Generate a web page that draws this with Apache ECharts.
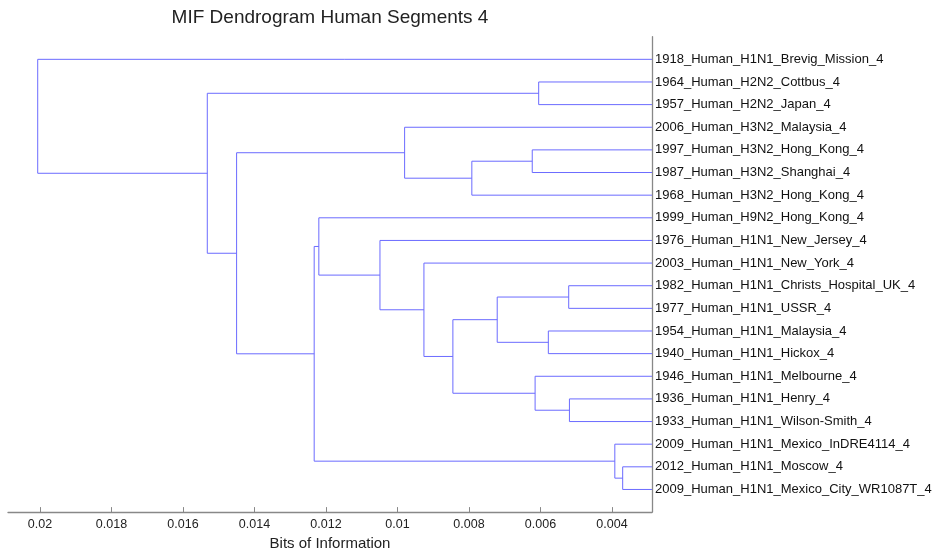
<!DOCTYPE html>
<html>
<head>
<meta charset="utf-8">
<script src="https://cdn.jsdelivr.net/npm/echarts@6/dist/echarts.min.js"></script>
<style>html,body{margin:0;padding:0;background:#fff}#c{width:941px;height:556px}</style>
</head>
<body>
<div id="c"></div>
<script>
// Leaf labels, top to bottom
var leafNames = [
  '1918_Human_H1N1_Brevig_Mission_4',
  '1964_Human_H2N2_Cottbus_4',
  '1957_Human_H2N2_Japan_4',
  '2006_Human_H3N2_Malaysia_4',
  '1997_Human_H3N2_Hong_Kong_4',
  '1987_Human_H3N2_Shanghai_4',
  '1968_Human_H3N2_Hong_Kong_4',
  '1999_Human_H9N2_Hong_Kong_4',
  '1976_Human_H1N1_New_Jersey_4',
  '2003_Human_H1N1_New_York_4',
  '1982_Human_H1N1_Christs_Hospital_UK_4',
  '1977_Human_H1N1_USSR_4',
  '1954_Human_H1N1_Malaysia_4',
  '1940_Human_H1N1_Hickox_4',
  '1946_Human_H1N1_Melbourne_4',
  '1936_Human_H1N1_Henry_4',
  '1933_Human_H1N1_Wilson-Smith_4',
  '2009_Human_H1N1_Mexico_InDRE4114_4',
  '2012_Human_H1N1_Moscow_4',
  '2009_Human_H1N1_Mexico_City_WR1087T_4'
];
// Merge table: child A, child B (indices < 20 are leaves, >= 20 are earlier merges), height
var mergeLeft  = [4, 20, 3, 1, 10, 12, 24, 15, 14, 26, 9, 8, 7, 18, 17, 32, 22, 23, 0];
var mergeRight = [5, 6, 21, 2, 11, 13, 25, 16, 27, 28, 29, 30, 31, 19, 33, 34, 35, 36, 37];
var mergeHeight = [0.00623, 0.00792, 0.00980, 0.00605, 0.00521, 0.00578, 0.00721, 0.00519, 0.00615,
                   0.00845, 0.00926, 0.01049, 0.01220, 0.00370, 0.00392, 0.01233, 0.01450, 0.01532, 0.020064];
var xTicks = [0.02, 0.018, 0.016, 0.014, 0.012, 0.01, 0.008, 0.006, 0.004];
var X_MIN = 0.00288, X_MAX = 0.020895;

var nLeaf = leafNames.length;
var nodeX = [], nodeY = [];
for (var i = 0; i < nLeaf; i++) { nodeX.push(X_MIN); nodeY.push(i + 1); }
var links = [];
for (var k = 0; k < mergeLeft.length; k++) {
  var a = mergeLeft[k], b = mergeRight[k], h = mergeHeight[k];
  links.push({coords: [[nodeX[a], nodeY[a]], [h, nodeY[a]], [h, nodeY[b]], [nodeX[b], nodeY[b]]]});
  nodeX.push(h);
  nodeY.push((nodeY[a] + nodeY[b]) / 2);
}
var yTickVals = leafNames.map(function (_, i) { return i + 1; });

var chart = echarts.init(document.getElementById('c'), null, {renderer: 'canvas'});
var FONT = '"Liberation Sans", Arial, Helvetica, sans-serif';
chart.setOption({
  animation: false,
  backgroundColor: '#fff',
  grid: {left: 8, right: 289, top: 36.7, bottom: 38, containLabel: false},
  graphic: [{
    type: 'text', x: 330, y: 18,
    style: {text: 'MIF Dendrogram Human Segments 4', x: 0, y: 0, textAlign: 'center', textVerticalAlign: 'middle',
            font: '19px ' + FONT, fill: '#222'}
  }],
  xAxis: {
    type: 'value', inverse: true, min: X_MIN, max: X_MAX, position: 'bottom',
    name: 'Bits of Information', nameLocation: 'middle', nameGap: 20,
    nameTextStyle: {fontFamily: FONT, fontSize: 15, color: '#222'},
    axisLine: {show: true, onZero: false, lineStyle: {color: '#888', width: 1.3}},
    axisTick: {show: true, inside: true, length: 5, customValues: xTicks, lineStyle: {color: '#888'}},
    axisLabel: {customValues: xTicks, fontFamily: FONT, fontSize: 12.5, color: '#222', margin: 6,
                formatter: function (v) { return String(+v.toFixed(4)); }},
    splitLine: {show: false}
  },
  yAxis: {
    type: 'value', inverse: true, min: 0, max: 21, position: 'right',
    axisLine: {show: true, onZero: false, lineStyle: {color: '#888', width: 1.3}},
    axisTick: {show: false},
    axisLabel: {customValues: yTickVals, fontFamily: FONT, fontSize: 13, color: '#111', margin: 3,
                formatter: function (v) { return leafNames[Math.round(v) - 1] || ''; }},
    splitLine: {show: false}
  },
  series: [{
    type: 'lines', coordinateSystem: 'cartesian2d', polyline: true,
    lineStyle: {color: '#6b6bff', width: 1, opacity: 1},
    data: links, silent: true
  }]
});
</script>
</body>
</html>
